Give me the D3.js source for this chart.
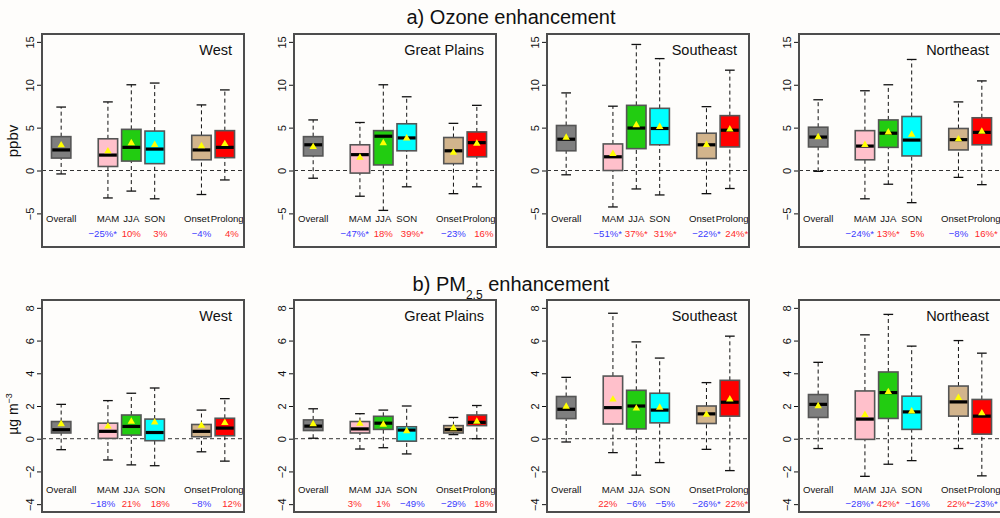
<!DOCTYPE html>
<html>
<head>
<meta charset="utf-8">
<script src="https://cdn.jsdelivr.net/npm/d3@7"></script>
<style>
  html, body { margin: 0; padding: 0; background: #fefdfb; }
  svg { display: block; font-family: "Liberation Sans", Arial, sans-serif; }
</style>
</head>
<body>
<svg id="chart" width="1000" height="518"></svg>
<script>
const groups = ["Overall", "MAM", "JJA", "SON", "Onset", "Prolong"];
const fills = ["#7f7f7f", "#ffc0cb", "#22cc11", "#00ffff", "#d2b48c", "#ff0000"];
const regions = ["West", "Great Plains", "Southeast", "Northeast"];
const o3Ticks = [-5, 0, 5, 10, 15];
const pmTicks = [-4, -2, 0, 2, 4, 6, 8];

// each row: [lower whisker, q1, median, q3, upper whisker, mean]
const o3West = [[-0.4, 1.45, 2.4, 3.95, 7.4, 2.95], [-3.2, 0.47, 1.8, 3.7, 8.0, 2.25], [-2.4, 1.1, 2.7, 4.8, 10.0, 3.2],
  [-3.3, 0.8, 2.5, 4.6, 10.2, 3.0], [-2.8, 1.25, 2.4, 4.1, 7.65, 2.85], [-1.1, 1.5, 2.7, 4.65, 9.4, 3.1]];
const o3Plains = [[-0.9, 1.7, 3.0, 3.95, 5.9, 2.75], [-3.0, -0.3, 1.85, 3.0, 5.6, 1.5], [-4.65, 0.65, 4.0, 4.65, 10.0, 3.2],
  [-1.9, 2.3, 3.8, 5.45, 8.6, 3.75], [-2.7, 0.8, 2.3, 3.85, 5.5, 2.1], [-1.9, 1.6, 3.25, 4.5, 7.6, 3.15]];
const o3South = [[-0.5, 2.3, 3.65, 5.25, 9.05, 3.85], [-4.25, 0, 1.6, 3.1, 7.5, 1.95], [-2.15, 2.55, 4.95, 7.6, 14.7, 5.3],
  [-2.85, 3.0, 4.9, 7.25, 13.05, 5.1], [-2.7, 1.4, 3.0, 4.35, 7.45, 3.0], [-2.1, 2.75, 4.7, 6.4, 11.7, 4.8]];
const o3North = [[-0.1, 2.75, 3.9, 5.05, 8.25, 3.9], [-3.3, 1.25, 2.85, 4.65, 9.3, 3.0], [-1.6, 2.7, 4.35, 5.9, 10.0, 4.45],
  [-3.75, 1.7, 3.55, 6.3, 12.95, 4.2], [-0.8, 2.4, 3.6, 4.9, 8.0, 3.65], [-1.65, 3.0, 4.45, 6.15, 10.45, 4.55]];

const pmWest = [[-0.67, 0.35, 0.55, 1.05, 2.1, 0.9], [-1.3, 0.02, 0.45, 0.95, 2.33, 0.75], [-1.6, 0.22, 0.75, 1.45, 2.78, 1.05],
  [-1.65, -0.12, 0.38, 1.2, 3.1, 1.0], [-0.8, 0.12, 0.45, 0.87, 1.75, 0.8], [-1.37, 0.18, 0.65, 1.25, 2.45, 0.97]];
const pmPlains = [[0.03, 0.5, 0.77, 1.15, 1.83, 0.9], [-0.63, 0.35, 0.6, 1.05, 1.53, 0.93], [-0.55, 0.57, 0.95, 1.37, 1.75, 0.87],
  [-0.93, -0.15, 0.53, 0.73, 2.0, 0.47], [0.25, 0.35, 0.55, 0.8, 1.3, 0.65], [0.0, 0.8, 1.0, 1.45, 2.03, 1.05]];
const pmSouth = [[-0.2, 1.23, 1.8, 2.58, 3.75, 1.97], [-0.85, 0.9, 1.9, 3.83, 7.67, 2.4], [-2.23, 0.6, 2.0, 2.96, 5.92, 1.85],
  [-1.46, 0.97, 1.75, 2.78, 4.93, 1.9], [-0.65, 0.93, 1.52, 2.0, 3.43, 1.48], [-1.95, 1.38, 2.23, 3.57, 6.27, 2.41]];
const pmNorth = [[-0.6, 1.3, 2.1, 2.7, 4.67, 2.0], [-2.3, -0.04, 1.2, 2.92, 6.35, 1.46], [-1.56, 1.24, 2.82, 4.08, 7.6, 2.86],
  [-1.34, 0.57, 1.64, 2.6, 5.66, 1.68], [-0.6, 1.38, 2.25, 3.22, 6.0, 2.5], [-2.27, 0.28, 1.38, 2.4, 5.23, 1.56]];

// percent change for MAM, JJA, SON, Onset, Prolong; sig = marked with *
const o3Pct = [[-25, 10, 3, -4, 4], [-47, 18, 39, -23, 16], [-51, 37, 31, -22, 24], [-24, 13, 5, -8, 16]];
const o3Sig = [[1, 0, 0, 0, 0], [1, 0, 1, 0, 0], [1, 1, 1, 1, 1], [1, 1, 0, 0, 1]];
const pmPct = [[-18, 21, 18, -8, 12], [3, 1, -49, -29, 18], [22, -6, -5, -26, 22], [-28, 42, -16, 22, -23]];
const pmSig = [[0, 0, 0, 0, 0], [0, 0, 0, 0, 0], [0, 0, 0, 1, 1], [1, 1, 0, 1, 1]];

// layout
const boxPos = [1, 3, 4, 5, 7, 8];
const labelPos = [1, 3, 4, 5, 6.8, 8.1];
const pctPos = [2.78, 4, 5.24, 7, 8.3];
const panelLeft = [42, 294, 547, 799];
const panelW = 202;
const minus = v => (v < 0 ? "\u2212" + (-v) : String(v));

const svg = d3.select("#chart");

const rows = [
  { top: 34, bottom: 247, domain: [-8.92, 15.92], ticks: o3Ticks, labY: -5.55, pctY: -7.35,
    stats: [o3West, o3Plains, o3South, o3North], pct: o3Pct, sig: o3Sig },
  { top: 300, bottom: 512, domain: [-4.48, 8.48], ticks: pmTicks, labY: -3.08, pctY: -3.95,
    stats: [pmWest, pmPlains, pmSouth, pmNorth], pct: pmPct, sig: pmSig }
];

// titles
svg.append("text").attr("x", 511).attr("y", 24).attr("text-anchor", "middle")
  .style("font-size", "20px").attr("fill", "#111").text("a) Ozone enhancement");

const t2 = svg.append("text").attr("x", 511).attr("y", 291).attr("text-anchor", "middle")
  .style("font-size", "20px").attr("fill", "#111");
t2.append("tspan").text("b) PM");
t2.append("tspan").attr("dy", 8).style("font-size", "12px").text("2.5");
t2.append("tspan").attr("dy", -8).text(" enhancement");

// y labels
svg.append("text").attr("transform", "translate(18,141) rotate(-90)").attr("text-anchor", "middle")
  .style("font-size", "15px").attr("fill", "#111").text("ppbv");
const yl = svg.append("text").attr("transform", "translate(18,414) rotate(-90)").attr("text-anchor", "middle")
  .style("font-size", "14px").attr("fill", "#111");
yl.append("tspan").text("\u00b5g m");
yl.append("tspan").attr("dy", -6).style("font-size", "9px").text("\u22123");

rows.forEach(row => {
  const y = d3.scaleLinear().domain(row.domain).range([row.bottom, row.top]);

  regions.forEach((name, r) => {
    const L = panelLeft[r];
    const x = d3.scaleLinear().domain([0.18, 8.82]).range([L, L + panelW]);
    const g = svg.append("g");
    const data = row.stats[r];
    const bw = x(0.83) - x(0);
    const cw = bw * 0.5;

    // zero line
    g.append("line").attr("x1", L).attr("x2", L + panelW).attr("y1", y(0)).attr("y2", y(0))
      .attr("stroke", "#333").attr("stroke-width", 1).attr("stroke-dasharray", "4,3");

    const box = g.selectAll("g.box").data(data).join("g").attr("class", "box");

    // whiskers
    box.append("line").attr("x1", (d, i) => x(boxPos[i])).attr("x2", (d, i) => x(boxPos[i]))
      .attr("y1", d => y(d[0])).attr("y2", d => y(d[1]))
      .attr("stroke", "#111").attr("stroke-dasharray", "4,3");
    box.append("line").attr("x1", (d, i) => x(boxPos[i])).attr("x2", (d, i) => x(boxPos[i]))
      .attr("y1", d => y(d[3])).attr("y2", d => y(d[4]))
      .attr("stroke", "#111").attr("stroke-dasharray", "4,3");
    // caps
    [0, 4].forEach(k => {
      box.append("line").attr("x1", (d, i) => x(boxPos[i]) - cw / 2).attr("x2", (d, i) => x(boxPos[i]) + cw / 2)
        .attr("y1", d => y(d[k])).attr("y2", d => y(d[k]))
        .attr("stroke", "#111").attr("stroke-width", 1.3);
    });
    // boxes
    box.append("rect").attr("x", (d, i) => x(boxPos[i]) - bw / 2).attr("width", bw)
      .attr("y", d => y(d[3])).attr("height", d => y(d[1]) - y(d[3]))
      .attr("fill", (d, i) => fills[i]).attr("stroke", "#555").attr("stroke-width", 1.6);
    // medians
    box.append("line").attr("x1", (d, i) => x(boxPos[i]) - bw / 2 + 0.8).attr("x2", (d, i) => x(boxPos[i]) + bw / 2 - 0.8)
      .attr("y1", d => y(d[2])).attr("y2", d => y(d[2]))
      .attr("stroke", "#000").attr("stroke-width", 3.2);
    // means
    box.append("path").attr("d", d3.symbol(d3.symbolTriangle).size(24))
      .attr("transform", (d, i) => `translate(${x(boxPos[i])},${y(d[5])})`)
      .attr("fill", "#ffff00");

    // category labels
    g.selectAll("text.cat").data(groups).join("text").attr("class", "cat")
      .attr("x", (d, i) => x(labelPos[i])).attr("y", y(row.labY) + 3.5)
      .attr("text-anchor", "middle").style("font-size", "9.6px").attr("fill", "#111")
      .text(d => d);

    // percent labels (kept inside the window at the right edge)
    g.selectAll("text.pct").data(row.pct[r]).join("text").attr("class", "pct")
      .attr("x", (d, i) => x(pctPos[i])).attr("y", y(row.pctY) + 3.5)
      .attr("text-anchor", "middle").style("font-size", "9.6px")
      .attr("fill", d => (d < 0 ? "#3a3aff" : "#ff2a2a"))
      .text((d, i) => minus(d) + "%" + (row.sig[r][i] ? "*" : ""))
      .each(function () {
        const b = this.getBBox();
        if (b.x + b.width > 998) d3.select(this).attr("x", +this.getAttribute("x") - (b.x + b.width - 998));
      });

    // region name
    g.append("text").attr("x", L + panelW - 12).attr("y", row.top + 21)
      .attr("text-anchor", "end").style("font-size", "14.5px").attr("fill", "#111").text(name);

    // y axis
    const ax = g.append("g").attr("transform", `translate(${L},0)`)
      .call(d3.axisLeft(y).tickValues(row.ticks).tickSize(5).tickFormat(minus));
    ax.select(".domain").remove();
    ax.selectAll(".tick line").attr("stroke", "#111");
    ax.selectAll(".tick text").attr("x", 0).attr("y", -8).attr("dy", 0)
      .attr("transform", "rotate(-90)").attr("text-anchor", "middle")
      .style("font-size", "11px").style("font-family", "'Liberation Sans', Arial, sans-serif").attr("fill", "#111");

    // frame
    g.append("rect").attr("x", L).attr("y", row.top).attr("width", panelW).attr("height", row.bottom - row.top)
      .attr("fill", "none").attr("stroke", "#4d4d4d").attr("stroke-width", 2);
  });
});
</script>
</body>
</html>
